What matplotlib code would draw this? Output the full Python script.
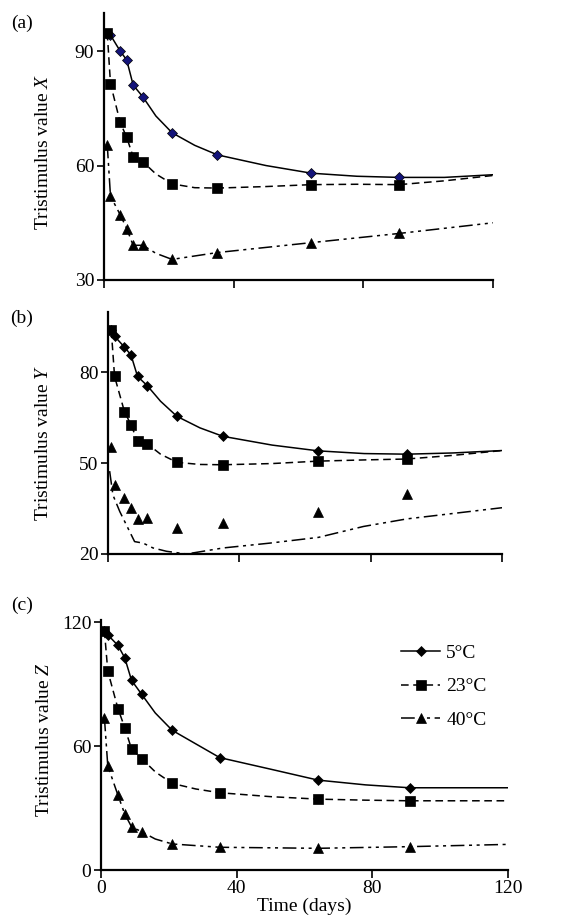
import matplotlib
matplotlib.use("Agg")
import matplotlib.pyplot as plt

plt.rcParams['font.family'] = ['Liberation Serif', 'DejaVu Serif']
plt.rcParams['mathtext.fontset'] = 'custom'
plt.rcParams['mathtext.rm'] = 'Liberation Serif'
plt.rcParams['mathtext.it'] = 'Liberation Serif:italic'

# sampling days (same for all series)
days = [1, 2, 5, 7, 9, 12, 21, 35, 64, 91]
labels = ['5°C', '23°C', '40°C']

# (a) tristimulus X
x_5 = [94.6, 94.2, 90.0, 87.7, 81.1, 78.0, 68.6, 62.8, 58.0, 56.9]
x_23 = [94.8, 81.5, 71.3, 67.4, 62.3, 61.0, 55.2, 54.1, 55.0, 55.0]
x_40 = [65.5, 52.0, 47.1, 43.5, 39.1, 39.1, 35.4, 37.2, 39.8, 42.2]

# (b) tristimulus Y
y_5 = [94.2, 92.0, 88.4, 85.8, 78.7, 75.6, 65.5, 58.9, 54.1, 53.0]
y_23 = [93.9, 78.7, 67.1, 62.7, 57.3, 56.4, 50.3, 49.5, 50.7, 51.4]
y_40 = [55.4, 42.7, 38.6, 35.3, 31.6, 31.8, 28.5, 30.4, 33.8, 39.8]

# (c) tristimulus Z
z_5 = [115.9, 113.8, 108.7, 102.7, 91.8, 85.0, 67.6, 54.4, 43.5, 39.8]
z_23 = [115.9, 96.3, 78.1, 68.9, 58.6, 53.9, 41.9, 37.4, 34.3, 33.5]
z_40 = [73.8, 50.4, 36.2, 27.1, 20.9, 18.5, 12.6, 11.0, 10.5, 11.3]

# fitted curves
fit_t = [1, 2, 5, 7, 9, 12, 16, 21, 28, 35, 50, 64, 78, 91, 105, 120]
fit_t40 = [1, 2, 5, 7, 9, 12, 16, 21, 35, 64, 91, 120]
fx_5 = [94.6, 94.2, 90.0, 87.7, 81.1, 78.0, 73.0, 68.6, 65.3, 62.8, 60.0, 58.0, 57.2, 56.9, 56.9, 57.6]
fx_23 = [94.8, 81.5, 71.3, 67.4, 62.3, 61.0, 57.8, 55.2, 54.2, 54.1, 54.5, 55.0, 55.1, 55.0, 56.0, 57.4]
fx_40 = [65.5, 52.0, 47.1, 43.5, 39.1, 39.1, 37.0, 35.4, 37.2, 39.8, 42.2, 45.0]
fy_5 = [94.2, 92.0, 88.4, 85.8, 78.7, 75.6, 70.5, 65.5, 61.7, 58.9, 56.0, 54.1, 53.2, 53.0, 53.4, 54.2]
fy_23 = [93.9, 78.7, 67.1, 62.7, 57.3, 56.4, 53.0, 50.3, 49.6, 49.5, 49.9, 50.7, 51.1, 51.4, 52.6, 54.2]
fy40_t = [0.5, 1.5, 3.6, 5.6, 8.1, 10.7, 13.7, 17.8, 23.9, 35.1, 49.3, 64.1, 77.8, 91, 120]
fy_40 = [47.4, 39.5, 34.0, 29.6, 24.1, 23.6, 22.0, 20.9, 20.0, 22.0, 23.6, 25.5, 29.1, 31.6, 35.3]
fz_5 = [115.9, 113.8, 108.7, 102.7, 91.8, 85.0, 76.0, 67.6, 61.0, 54.4, 48.8, 43.5, 41.2, 39.8, 39.8, 39.8]
fz_23 = [115.9, 96.3, 78.1, 68.9, 58.6, 53.9, 47.5, 41.9, 39.2, 37.4, 35.5, 34.3, 33.8, 33.5, 33.5, 33.5]
fz_40 = [73.8, 50.4, 36.2, 27.1, 20.9, 18.5, 15.0, 12.6, 11.0, 10.5, 11.3, 12.4]

dash = (0, (5, 3))
dashdot2 = (0, (9, 3, 2, 3, 2, 3))
W, H = 569, 922
FS = 14

fig = plt.figure(figsize=(5.69, 9.22), dpi=100)

def make_axes(left, right, bottom, top):
    return fig.add_axes([left / W, 1 - bottom / H, (right - left) / W, (bottom - top) / H])

def style(ax, ylim, yticks, ylab, lab_xy):
    for s in ['top', 'right']:
        ax.spines[s].set_visible(False)
    for s in ['left', 'bottom']:
        ax.spines[s].set_linewidth(1.6)
    ax.set_xlim(0, 120)
    ax.set_ylim(*ylim)
    ax.set_xticks([0, 40, 80, 120])
    ax.set_yticks(yticks)
    ax.tick_params(axis='y', direction='out', length=5, width=1.2, labelsize=FS, pad=2)
    ax.tick_params(axis='x', direction='out', length=6, width=1.2, labelsize=FS, pad=1)
    ax.set_ylabel(ylab, fontsize=FS)
    ax.yaxis.set_label_coords(*lab_xy)

mk = dict(markeredgecolor='black', markeredgewidth=0.5)
MD, MS, MT = 4.6, 6.8, 7.0

# (a)
ax1 = make_axes(104, 493, 280, 13)
ax1.plot(fit_t, fx_5, color='black', lw=1.1, ls='-')
ax1.plot(fit_t, fx_23, color='black', lw=1.1, ls=dash)
ax1.plot(fit_t40, fx_40, color='black', lw=1.1, ls=dashdot2)
ax1.plot(days, x_5, 'D', color='#14147a', ms=MD, **mk)
ax1.plot(days, x_23, 's', color='black', ms=MS, **mk)
ax1.plot(days, x_40, '^', color='black', ms=MT, **mk)
style(ax1, (30, 100), [30, 60, 90], r'Tristimulus value $\mathit{X}$', (-0.134, 0.48))
ax1.set_xticklabels([])

# (b)
ax2 = make_axes(108, 502, 554, 312)
ax2.plot(fit_t, fy_5, color='black', lw=1.1, ls='-')
ax2.plot(fit_t, fy_23, color='black', lw=1.1, ls=dash)
ax2.plot(fy40_t, fy_40, color='black', lw=1.1, ls=dashdot2)
ax2.plot(days, y_5, 'D', color='black', ms=MD, **mk)
ax2.plot(days, y_23, 's', color='black', ms=MS, **mk)
ax2.plot(days, y_40, '^', color='black', ms=MT, **mk)
style(ax2, (20, 100), [20, 50, 80], r'Tristimulus value $\mathit{Y}$', (-0.142, 0.46))
ax2.set_xticklabels([])

# (c)
ax3 = make_axes(101, 508, 870, 620)
ax3.plot(fit_t, fz_5, color='black', lw=1.1, ls='-')
ax3.plot(fit_t, fz_23, color='black', lw=1.1, ls=dash)
ax3.plot(fit_t40, fz_40, color='black', lw=1.1, ls=dashdot2)
ax3.plot(days, z_5, 'D', color='black', ms=MD, **mk)
ax3.plot(days, z_23, 's', color='black', ms=MS, **mk)
ax3.plot(days, z_40, '^', color='black', ms=MT, **mk)
style(ax3, (0, 121), [0, 60, 120], r'Tristimulus value $\mathit{Z}$', (-0.118, 0.52))
ax3.set_xlabel('Time (days)', fontsize=FS, labelpad=1)

# legend proxies
h1, = ax3.plot([], [], color='black', lw=1.1, ls='-', marker='D', ms=MD, **mk)
h2, = ax3.plot([], [], color='black', lw=1.1, ls=dash, marker='s', ms=MS, **mk)
h3, = ax3.plot([], [], color='black', lw=1.1, ls=dashdot2, marker='^', ms=MT, **mk)
ax3.legend([h1, h2, h3], labels, loc='upper left', bbox_to_anchor=(0.7, 0.965),
           frameon=False, fontsize=FS, handlelength=2.0, handletextpad=0.3,
           labelspacing=0.82, borderpad=0.3)

for txt, y in [('(a)', 23), ('(b)', 318), ('(c)', 605)]:
    fig.text(22 / W, 1 - y / H, txt, fontsize=FS, ha='center', va='center')

fig.savefig('out.png', dpi=100)
